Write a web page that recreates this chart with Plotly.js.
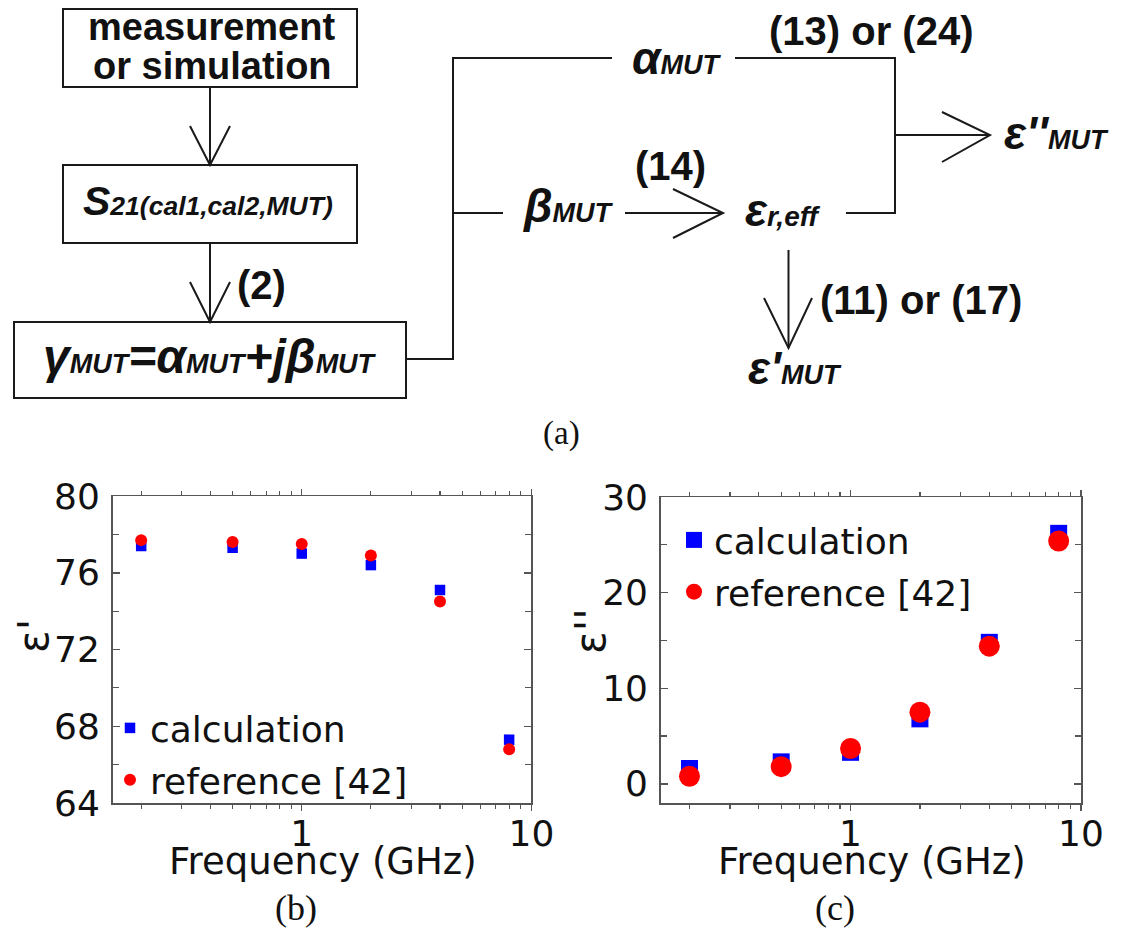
<!DOCTYPE html>
<html>
<head>
<meta charset="utf-8">
<script src="https://cdn.plot.ly/plotly-3.0.1.min.js"></script>
<style>
  html, body { margin: 0; padding: 0; background: #fff; }
  #chart { width: 1124px; height: 930px; }
</style>
</head>
<body>
<div id="chart"></div>
<script>
// Measured permittivity of the material under test versus frequency
const freqGHz      = [0.2, 0.5, 1, 2, 4, 8];
const epsRealCalc  = [77.4, 77.3, 77.0, 76.4, 75.1, 67.3];
const epsRealRef   = [77.7, 77.6, 77.5, 76.9, 74.5, 66.8];
const epsImagCalc  = [1.6, 2.3, 3.3, 6.8, 14.8, 26.2];
const epsImagRef   = [0.8, 1.8, 3.7, 7.5, 14.4, 25.4];

const seriesNames   = ['calculation', 'reference [42]'];
const freqTickVals  = [1, 10];
const freqTickText  = ['1', '10'];
const freqMinorVals = [0.2, 0.3, 0.4, 0.5, 0.6, 0.7, 0.8, 0.9, 2, 3, 4, 5, 6, 7, 8, 9];
const realTickVals  = [64, 68, 72, 76, 80];
const realMinorVals = [66, 70, 74, 78];
const imagTickVals  = [0, 10, 20, 30];
const imagMinorVals = [5, 15, 25];

// page geometry helpers (pixels -> paper fractions)
const W = 1124, H = 930;
const px = x => x / W;
const py = y => 1 - y / H;
const pathOf = pts => 'M' + pts.map(p => px(p[0]).toFixed(5) + ',' + py(p[1]).toFixed(5)).join('L');

const BLUE = '#0000ff', RED = '#ff0000';
const PLOT_FONT = 'DejaVu Sans, Arial, sans-serif';
const DIAG_FONT = 'Liberation Sans, Arial, sans-serif';
const SERIF = 'Liberation Serif, Times New Roman, serif';

const traces = [
  { x: freqGHz, y: epsRealCalc, xaxis: 'x', yaxis: 'y', type: 'scatter', mode: 'markers',
    name: seriesNames[0], legend: 'legend', legendgroup: 'b1',
    marker: { symbol: 'square', color: BLUE, size: 10.5 } },
  { x: freqGHz, y: epsRealRef, xaxis: 'x', yaxis: 'y', type: 'scatter', mode: 'markers',
    name: seriesNames[1], legend: 'legend', legendgroup: 'b2',
    marker: { symbol: 'circle', color: RED, size: 12 } },
  { x: freqGHz, y: epsImagCalc, xaxis: 'x2', yaxis: 'y2', type: 'scatter', mode: 'markers',
    name: seriesNames[0], legend: 'legend2', legendgroup: 'c1',
    marker: { symbol: 'square', color: BLUE, size: 17 } },
  { x: freqGHz, y: epsImagRef, xaxis: 'x2', yaxis: 'y2', type: 'scatter', mode: 'markers',
    name: seriesNames[1], legend: 'legend2', legendgroup: 'c2',
    marker: { symbol: 'circle', color: RED, size: 21 } }
];

const axisBase = {
  showline: true, linecolor: '#555', linewidth: 1.5, mirror: 'ticks',
  showgrid: false, zeroline: false, tickcolor: '#555', tickwidth: 1.5,
  tickfont: { family: PLOT_FONT, size: 36, color: '#111' }
};
const freqAxis = (domain, anchor) => Object.assign({}, axisBase, {
  type: 'log', range: [Math.log10(0.15), 1], domain: domain, anchor: anchor,
  tickmode: 'array', tickvals: freqTickVals, ticktext: freqTickText,
  ticks: 'outside', ticklen: 6, ticklabelstandoff: -8,
  minor: { tickmode: 'array', tickvals: freqMinorVals, ticks: 'outside', ticklen: 4,
           tickcolor: '#555', tickwidth: 1.2, showgrid: false }
});
const valueAxis = (domain, anchor, range, vals, minorVals) => Object.assign({}, axisBase, {
  range: range, domain: domain, anchor: anchor,
  tickmode: 'array', tickvals: vals, ticks: 'inside', ticklen: 7, ticklabelstandoff: 4,
  minor: { tickmode: 'array', tickvals: minorVals, ticks: 'inside', ticklen: 6,
           tickcolor: '#555', tickwidth: 1.2, showgrid: false }
});

const legendStyle = (x, y) => ({
  x: px(x), y: py(y), xanchor: 'left', yanchor: 'top',
  bgcolor: 'rgba(0,0,0,0)', borderwidth: 0,
  font: { family: PLOT_FONT, size: 36, color: '#111' },
  traceorder: 'grouped', tracegroupgap: 2, itemsizing: 'trace'
});

// flow diagram: boxes, connectors and open arrowheads
const LINE = { color: '#1a1a1a', width: 2 };
const rect = (x0, y0, x1, y1) => ({ type: 'rect', xref: 'paper', yref: 'paper',
  x0: px(x0), x1: px(x1), y0: py(y1), y1: py(y0), line: LINE, fillcolor: 'rgba(0,0,0,0)' });
const poly = pts => ({ type: 'path', xref: 'paper', yref: 'paper', path: pathOf(pts), line: LINE });

const shapes = [
  rect(63, 9, 357, 87),
  rect(63, 165, 357, 243),
  rect(14, 322, 406, 398),
  poly([[210, 87], [210, 165]]),
  poly([[190, 126], [210, 165], [230, 126]]),
  poly([[210, 243], [210, 322]]),
  poly([[190, 282], [210, 322], [230, 282]]),
  poly([[406, 359], [453, 359], [453, 58], [612, 58]]),
  poly([[453, 213], [503, 213]]),
  poly([[735, 58], [895, 58], [895, 213], [846, 213]]),
  poly([[625, 213], [723, 213]]),
  poly([[673, 189], [723, 213], [673, 238]]),
  poly([[895, 135], [990, 135]]),
  poly([[942, 112], [990, 135], [942, 162]]),
  poly([[788.5, 250], [788.5, 348]]),
  poly([[764, 298], [788.5, 348], [812, 298]])
];

const sm = (s, size) => '<span style="font-size:' + (size || 27) + 'px">' + s + '</span>';
const note = (text, x, y, size, o) => {
  o = o || {};
  return {
    xref: 'paper', yref: 'paper', x: px(x), y: py(y), xanchor: 'center', yanchor: 'middle',
    showarrow: false, text: text, textangle: o.angle || 0,
    font: { family: o.family || DIAG_FONT, size: size, color: '#111',
            weight: o.bold ? 'bold' : 'normal', style: o.italic ? 'italic' : 'normal' }
  };
};
const BI = { bold: true, italic: true };
const B = { bold: true };

const annotations = [
  note('measurement', 211, 27.5, 38, B),
  note('or simulation', 212, 65.5, 38, B),
  note('S' + sm('21(cal1,cal2,MUT)', 26.5), 208, 201, 41, BI),
  note('(2)', 261.5, 285, 40, B),
  note('γ' + sm('MUT') + '=α' + sm('MUT') + '+jβ' + sm('MUT'), 210, 356, 48, BI),
  note('α' + sm('MUT'), 676.5, 58, 46, BI),
  note('β' + sm('MUT'), 568, 206, 46, BI),
  note('ε' + sm('r,eff', 28), 782.6, 210, 46, BI),
  note('ε\'\'' + sm('MUT'), 1056, 133, 46, BI),
  note('ε\'' + sm('MUT'), 795, 368, 46, BI),
  note('(13) or (24)', 872, 31, 40, B),
  note('(14)', 670, 166, 40, B),
  note('(11) or (17)', 921, 300, 40, B),
  note('(a)', 561.5, 433, 33, { family: SERIF }),
  note('(b)', 296, 908, 36, { family: SERIF }),
  note('(c)', 835, 908, 36, { family: SERIF }),
  note('Frequency (GHz)', 322.5, 861, 37, { family: PLOT_FONT }),
  note('Frequency (GHz)', 872, 861, 37, { family: PLOT_FONT }),
  note('ε\'', 33, 636, 42, { family: PLOT_FONT, angle: -90 }),
  note('ε\'\'', 590, 631, 42, { family: PLOT_FONT, angle: -90 })
];

const layout = {
  width: W, height: H,
  margin: { l: 0, r: 0, t: 0, b: 0, pad: 0 },
  paper_bgcolor: '#fff', plot_bgcolor: '#fff',
  showlegend: true,
  xaxis: freqAxis([px(112.5), px(531.4)], 'y'),
  yaxis: valueAxis([py(803), py(496)], 'x', [64, 80], realTickVals, realMinorVals),
  xaxis2: freqAxis([px(660.7), px(1081)], 'y2'),
  yaxis2: valueAxis([py(803), py(497)], 'x2', [-2, 30], imagTickVals, imagMinorVals),
  legend: legendStyle(110, 698),
  legend2: legendStyle(674, 510),
  shapes: shapes,
  annotations: annotations
};

Plotly.newPlot('chart', traces, layout, { staticPlot: true, displayModeBar: false });
</script>
</body>
</html>
